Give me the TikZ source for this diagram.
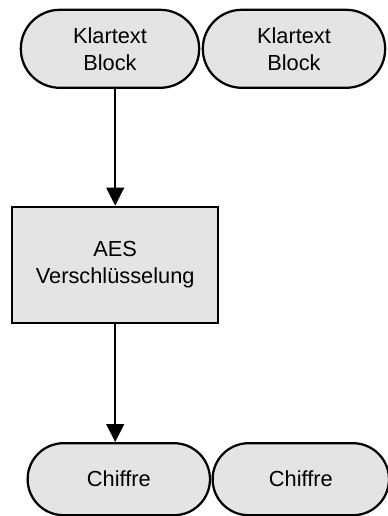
\documentclass[tikz,border=0pt]{standalone}
\usepackage{fontspec}
\setmainfont{Liberation Sans}
\usetikzlibrary{shapes.misc,arrows.meta,positioning}
\definecolor{stipplegray}{RGB}{228,228,228}

\begin{document}
\begin{tikzpicture}[
    pill/.style={draw, line width=1.6pt, rounded rectangle, fill=stipplegray, minimum height=1.95cm, align=center, inner sep=2pt},
    box/.style={draw, line width=1.6pt, fill=stipplegray, minimum width=5.15cm, minimum height=2.9cm, align=center},
    flow/.style={line width=1.6pt, -{Triangle[length=4.5mm,width=4.4mm]}},
    every node/.style={font=\fontsize{15.5}{19.2}\selectfont}
  ]
        \useasboundingbox (0,0) rectangle (9.7,-12.9);
        \node[pill, minimum width=4.6cm] (klar1) at (2.75,-1.22) {Klartext\\Block};
        \node[pill, minimum width=4.7cm] (klar2) at (7.35,-1.22) {Klartext\\Block};

        \node[box] (aes) at (2.88,-6.62) {AES\\Verschlüsselung};

        \node[pill, minimum width=4.7cm, minimum height=1.8cm] (chiffre1) at (2.97,-11.98) {Chiffre};
        \node[pill, minimum width=4.55cm, minimum height=1.8cm] (chiffre2) at (7.52,-11.98) {Chiffre};

        \draw[flow] (klar1.south -| aes.north) -- (aes.north);
        \draw[flow] (aes.south) -- (aes.south |- chiffre1.north);
    \end{tikzpicture}
\end{document}
